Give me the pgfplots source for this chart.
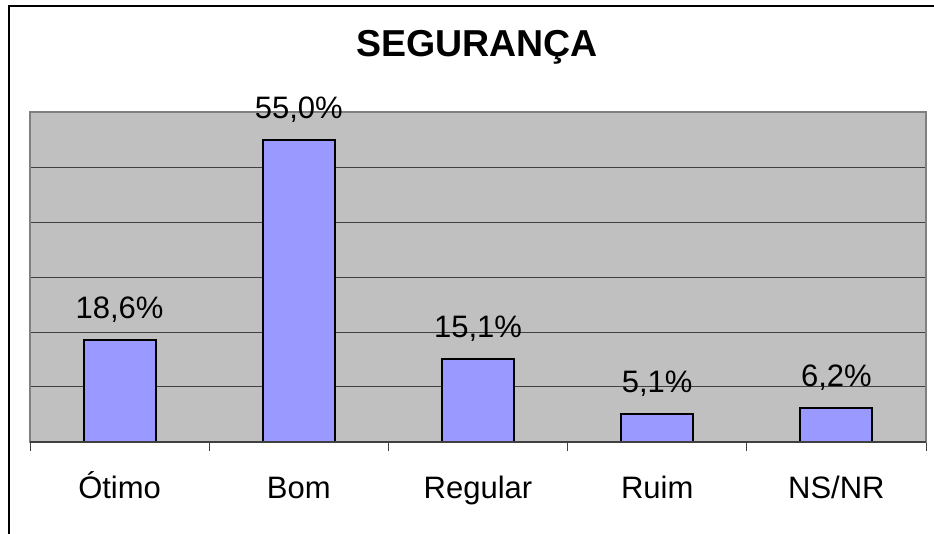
\documentclass[border=0pt]{standalone}
\usepackage{pgfplots}
\pgfplotsset{compat=1.18}
\usepackage{fontspec}
\setmainfont{Liberation Sans}
\definecolor{plotbg}{HTML}{C0C0C0}
\definecolor{barfill}{HTML}{9999FF}
\definecolor{bordergray}{HTML}{808080}
\definecolor{griddark}{HTML}{404040}
\begin{document}
\begin{tikzpicture}
\useasboundingbox (0,0) rectangle (934bp,534bp);
\fill[white] (0,0) rectangle (934bp,534bp);
\draw[line width=1.5bp, black] (9bp,0) -- (9bp,528bp) -- (934bp,528bp);
\node[anchor=base, font=\bfseries\fontsize{37.5bp}{42bp}\selectfont] at (477bp,477bp) {SEGURANÇA};
\begin{axis}[
  at={(30bp,92bp)}, anchor=south west,
  scale only axis, width=896bp, height=330bp,
  xmin=-0.5, xmax=4.5, ymin=0, ymax=60,
  axis background/.style={fill=plotbg},
  axis line style={draw=bordergray, line width=2bp},
  ytick={10,20,30,40,50}, yticklabels={}, ymajorgrids,
  major grid style={draw=griddark, line width=1bp},
  major y tick style={draw=none},
  xtick={0,1,2,3,4},
  xticklabels={Ótimo,Bom,Regular,Ruim,NS/NR},
  major x tick style={draw=none},
  minor xtick={-0.5,0.5,1.5,2.5,3.5,4.5},
  minor tick length=9bp,
  minor x tick style={draw=griddark, line width=1bp},
  tick align=outside, tick pos=bottom,
  xticklabel style={anchor=base, yshift=-52bp, font=\fontsize{31bp}{35bp}\selectfont},
  ybar, bar width=72bp,
  nodes near coords={\pgfmathprintnumber[fixed,fixed zerofill,precision=1,use comma,assume math mode=true]{\pgfplotspointmeta}\%},
  every node near coord/.append style={anchor=base, yshift=21bp, inner sep=0pt, font=\fontsize{31bp}{35bp}\selectfont, text=black},
  clip=false,
]
\addplot[fill=barfill, draw=black, line width=2bp] coordinates {(0,18.6) (1,55.0) (2,15.1) (3,5.1) (4,6.2)};
\draw[griddark, line width=1.5bp] (rel axis cs:0,0) -- (rel axis cs:1,0);
\end{axis}
\end{tikzpicture}
\end{document}
